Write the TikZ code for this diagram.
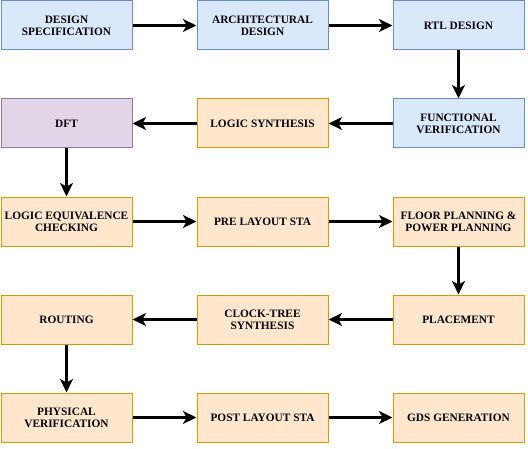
\documentclass[tikz,border=0pt]{standalone}
\usepackage{fontspec}
\setmainfont{Liberation Serif}
\usetikzlibrary{arrows.meta}
\definecolor{bfill}{HTML}{DAE8FC}\definecolor{bdraw}{HTML}{6C8EBF}
\definecolor{ofill}{HTML}{FFE6CC}\definecolor{odraw}{HTML}{D79B00}
\definecolor{pfill}{HTML}{E1D5E7}\definecolor{pdraw}{HTML}{9673A6}
\begin{document}
\begin{tikzpicture}[x=0.75pt,y=-0.75pt,
  box/.style={rectangle,minimum width=98.25pt,minimum height=36.75pt,line width=0.75pt,
    align=center,font=\fontsize{8.5}{9.2}\selectfont\bfseries,inner sep=1pt},
  bluebox/.style={box,fill=bfill,draw=bdraw},
  orangebox/.style={box,fill=ofill,draw=odraw},
  purplebox/.style={box,fill=pfill,draw=pdraw},
  flow/.style={line width=2.25pt,-{Stealth[length=10pt,width=9.5pt,inset=2.5pt]}}]
\useasboundingbox (0,0) rectangle (528,449);
\node[bluebox] (spec) at (66.5,25.5) {DESIGN\\SPECIFICATION};
\node[bluebox] (arch) at (262.5,25.5) {ARCHITECTURAL\\DESIGN};
\node[bluebox] (rtl) at (458.5,25.5) {RTL DESIGN};
\node[bluebox] (func) at (458.5,123.5) {FUNCTIONAL\\VERIFICATION};
\node[orangebox] (synth) at (262.5,123.5) {LOGIC SYNTHESIS};
\node[purplebox] (dft) at (66.5,123.5) {DFT};
\node[orangebox] (lec) at (66.5,221.5) {LOGIC EQUIVALENCE\\CHECKING};
\node[orangebox] (presta) at (262.5,221.5) {PRE LAYOUT STA};
\node[orangebox] (floor) at (458.5,221.5) {FLOOR PLANNING \&\\POWER PLANNING};
\node[orangebox] (place) at (458.5,319.5) {PLACEMENT};
\node[orangebox] (cts) at (262.5,319.5) {CLOCK-TREE\\SYNTHESIS};
\node[orangebox] (route) at (66.5,319.5) {ROUTING};
\node[orangebox] (pv) at (66.5,417.5) {PHYSICAL\\VERIFICATION};
\node[orangebox] (poststa) at (262.5,417.5) {POST LAYOUT STA};
\node[orangebox] (gds) at (458.5,417.5) {GDS GENERATION};
\draw[flow] (spec) -- (arch);
\draw[flow] (arch) -- (rtl);
\draw[flow] (rtl) -- (func);
\draw[flow] (func) -- (synth);
\draw[flow] (synth) -- (dft);
\draw[flow] (dft) -- (lec);
\draw[flow] (lec) -- (presta);
\draw[flow] (presta) -- (floor);
\draw[flow] (floor) -- (place);
\draw[flow] (place) -- (cts);
\draw[flow] (cts) -- (route);
\draw[flow] (route) -- (pv);
\draw[flow] (pv) -- (poststa);
\draw[flow] (poststa) -- (gds);
\end{tikzpicture}
\end{document}
